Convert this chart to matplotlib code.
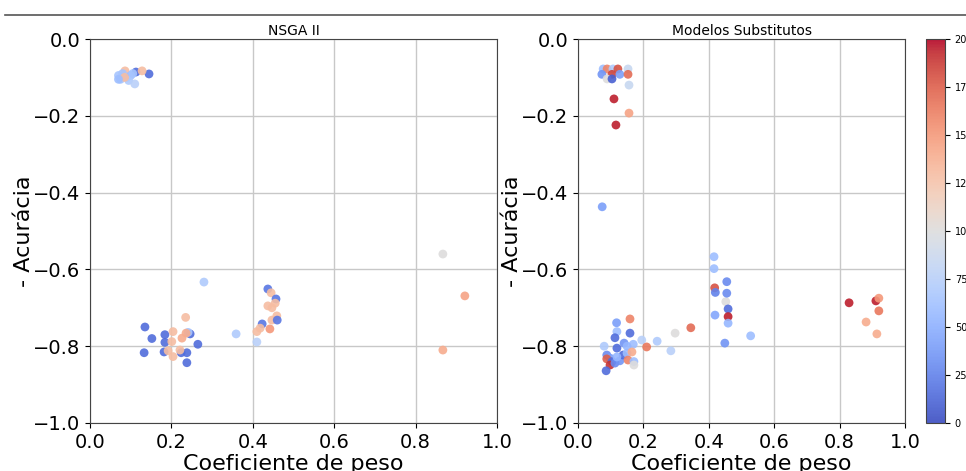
import matplotlib
matplotlib.use("Agg")
import matplotlib.pyplot as plt
from matplotlib.lines import Line2D
import numpy as np

# NSGA II: coeficiente de peso, -acuracia, geracao (cor)
nsga_x = [0.113, 0.145, 0.086, 0.128, 0.07, 0.08, 0.09, 0.1, 0.075, 0.095, 0.11, 0.085, 0.105, 0.07,
          0.135, 0.152, 0.184, 0.184, 0.133, 0.182, 0.224, 0.238, 0.238, 0.246, 0.265, 0.241,
          0.235, 0.204, 0.236, 0.226, 0.201, 0.192, 0.204, 0.221, 0.28, 0.359, 0.41,
          0.423, 0.41, 0.418, 0.442, 0.437, 0.447, 0.447, 0.459, 0.46, 0.437, 0.445, 0.457, 0.455,
          0.867, 0.921, 0.867]
nsga_y = [-0.086, -0.091, -0.083, -0.083, -0.095, -0.09, -0.1, -0.095, -0.105, -0.108, -0.117, -0.1, -0.09, -0.105,
          -0.75, -0.78, -0.77, -0.79, -0.817, -0.815, -0.817, -0.817, -0.843, -0.768, -0.795, -0.764,
          -0.725, -0.762, -0.766, -0.779, -0.788, -0.812, -0.827, -0.81, -0.633, -0.768, -0.789,
          -0.742, -0.762, -0.753, -0.755, -0.695, -0.70, -0.732, -0.721, -0.732, -0.651, -0.661, -0.677, -0.688,
          -0.56, -0.669, -0.81]
nsga_c = [15, 15, 130, 130, 65, 65, 70, 60, 65, 70, 75, 130, 65, 60,
          15, 15, 15, 15, 15, 15, 15, 15, 15, 15, 15, 65,
          130, 130, 140, 140, 130, 130, 130, 130, 70, 70, 75,
          20, 130, 130, 150, 130, 130, 130, 130, 20, 20, 130, 20, 130,
          100, 145, 140]

# Modelos Substitutos
sub_x = [0.077, 0.089, 0.107, 0.122, 0.153, 0.073, 0.104, 0.128, 0.153, 0.089, 0.104,
         0.156, 0.11, 0.156, 0.116, 0.074,
         0.159, 0.118, 0.119, 0.159, 0.113, 0.141, 0.08, 0.119, 0.195, 0.169, 0.21, 0.242,
         0.284, 0.297, 0.345, 0.419, 0.452, 0.459, 0.459, 0.459, 0.528, 0.449,
         0.088, 0.098, 0.088, 0.104, 0.098, 0.113, 0.128, 0.138, 0.150, 0.153, 0.171, 0.171,
         0.086, 0.119, 0.150, 0.165,
         0.416, 0.416, 0.455, 0.418, 0.455, 0.42,
         0.829, 0.911, 0.92, 0.92, 0.881, 0.914]
sub_y = [-0.078, -0.078, -0.078, -0.078, -0.078, -0.092, -0.092, -0.092, -0.092, -0.104, -0.104,
         -0.12, -0.156, -0.193, -0.224, -0.437,
         -0.729, -0.739, -0.762, -0.766, -0.778, -0.792, -0.80, -0.805, -0.784, -0.795, -0.802, -0.787,
         -0.812, -0.766, -0.752, -0.719, -0.684, -0.703, -0.723, -0.74, -0.773, -0.792,
         -0.823, -0.831, -0.833, -0.84, -0.849, -0.844, -0.838, -0.823, -0.818, -0.836, -0.84, -0.849,
         -0.864, -0.828, -0.80, -0.815,
         -0.567, -0.598, -0.632, -0.648, -0.662, -0.66,
         -0.687, -0.682, -0.675, -0.708, -0.737, -0.768]
sub_c = [60, 160, 70, 180, 85, 35, 185, 40, 170, 100, 10,
         85, 195, 145, 195, 40,
         160, 40, 60, 15, 15, 35, 70, 15, 75, 60, 165, 70,
         75, 100, 170, 45, 100, 15, 195, 55, 60, 35,
         30, 40, 175, 15, 190, 30, 35, 15, 60, 160, 60, 100,
         15, 55, 55, 140,
         60, 60, 30, 180, 30, 25,
         195, 195, 150, 165, 140, 140]

fig = plt.figure(figsize=(9.66, 4.71), dpi=100)
ax1 = fig.add_axes([90 / 966, 48 / 471, 407 / 966, 384 / 471])
ax2 = fig.add_axes([578 / 966, 48 / 471, 327 / 966, 384 / 471])
cax = fig.add_axes([926 / 966, 48 / 471, 19 / 966, 384 / 471])

fig.add_artist(Line2D([5 / 966, 1.0], [456 / 471, 456 / 471], color="#555555", lw=1.2))

for ax, xs, ys, cs, title in [(ax1, nsga_x, nsga_y, nsga_c, "NSGA II"),
                              (ax2, sub_x, sub_y, sub_c, "Modelos Substitutos")]:
    sc = ax.scatter(xs, ys, c=cs, cmap="coolwarm", vmin=0, vmax=200, s=40, alpha=0.9,
                    edgecolors="none", zorder=3)
    ax.set_xlim(0, 1)
    ax.set_ylim(-1, 0)
    ax.set_xticks(np.arange(0, 1.01, 0.2))
    ax.set_yticks(np.arange(-1, 0.01, 0.2))
    ax.grid(True, color="#c8c8c8", lw=1)
    ax.set_axisbelow(True)
    ax.tick_params(labelsize=14)
    ax.set_xlabel("Coeficiente de peso", fontsize=16, labelpad=2)
    ax.set_ylabel("- Acurácia", fontsize=16, labelpad=-1)
    ax.set_title(title, fontsize=10, pad=3)
    for sp in ax.spines.values():
        sp.set_color("#444444")

cb = fig.colorbar(sc, cax=cax, ticks=np.arange(0, 201, 25))
cb.ax.tick_params(labelsize=7)
cb.outline.set_edgecolor("#444444")

fig.savefig("out.png", dpi=100)
